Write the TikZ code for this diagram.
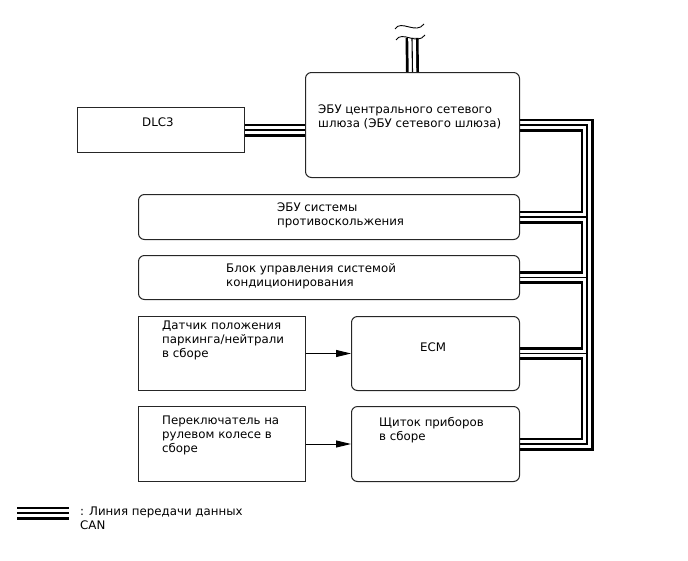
\documentclass[tikz,border=0pt]{standalone}
\usepackage{fontspec}
\setmainfont{DejaVu Sans}
\usetikzlibrary{arrows.meta,backgrounds}

\begin{document}
\begin{tikzpicture}[
  x=1pt,
  y=-1pt,
  unit/.style={draw=black!85,line width=1pt,inner sep=0pt,anchor=north west},
  ecu/.style={unit,rounded corners=6pt},
  txt/.style={font=\fontsize{11.8}{14}\selectfont,align=left,anchor=north west,inner sep=0pt},
  can/.style={line width=13pt,draw=black,postaction={draw=white,line width=7.6pt},postaction={draw=black,line width=1.1pt}},
  sig/.style={-{Triangle[length=15pt,width=7pt]},line width=1pt}
]
  \useasboundingbox (0,0) rectangle (688,560);

  % units
  \node[ecu,minimum width=214pt,minimum height=105pt] (gw) at (305,72) {};
  \node[unit,minimum width=167pt,minimum height=45pt] (dlc) at (77,107) {};
  \node[ecu,minimum width=381pt,minimum height=45pt] (abs) at (138,194) {};
  \node[ecu,minimum width=381pt,minimum height=44pt] (ac) at (138,255) {};
  \node[unit,minimum width=167pt,minimum height=74pt] (pnp) at (138,316) {};
  \node[ecu,minimum width=168pt,minimum height=74pt] (ecm) at (351,316) {};
  \node[unit,minimum width=167pt,minimum height=75pt] (sw) at (138,406) {};
  \node[ecu,minimum width=168pt,minimum height=75pt] (ic) at (351,406) {};

  % CAN bus (behind the unit borders)
  \coordinate (trunk) at (587,124);
  \coordinate (cut) at (412,38);
  \begin{pgfonlayer}{background}
    \draw[can] (gw.east) -| (ic.east -| trunk) -- (ic.east)
      (abs.east) -- (abs.east -| trunk)
      (ac.east) -- (ac.east -| trunk)
      (ecm.east) -- (ecm.east -| trunk);
    \draw[can] (dlc.east) -- (dlc.east -| gw.west);
    \draw[can] (gw.north) -- (cut);
  \end{pgfonlayer}
  \draw[line width=0.9pt] (395,29) .. controls (401,19) and (416,35) .. (424,24);
  \draw[line width=0.9pt] (396,40) .. controls (402,30) and (417,46) .. (425,35);

  % signals
  \draw[sig] (pnp.east) -- (ecm.west);
  \draw[sig] (sw.east) -- (ic.west);

  % labels
  \node[txt] (gwt) at (318,105) {ЭБУ центрального сетевого\\шлюза (ЭБУ сетевого шлюза)};
  \node[txt] (dlct) at (142,118) {DLC3};
  \node[txt] (abst) at (277,203) {ЭБУ системы\\противоскольжения};
  \node[txt] (act) at (226,263) {Блок управления системой\\кондиционирования};
  \node[txt] (pnpt) at (162,321) {Датчик положения\\паркинга/нейтрали\\в сборе};
  \node[txt] (ecmt) at (420,343) {ECM};
  \node[txt] (swt) at (162,416) {Переключатель на\\рулевом колесе в\\сборе};
  \node[txt] (ict) at (379,417) {Щиток приборов\\в сборе};

  % legend
  \coordinate (lg1) at (17,513);
  \coordinate (lg2) at (69,513);
  \draw[can] (lg1) -- (lg2);
  \node[txt] (lgt) at (80,507) {: Линия передачи данных\\CAN};
\end{tikzpicture}
\end{document}
